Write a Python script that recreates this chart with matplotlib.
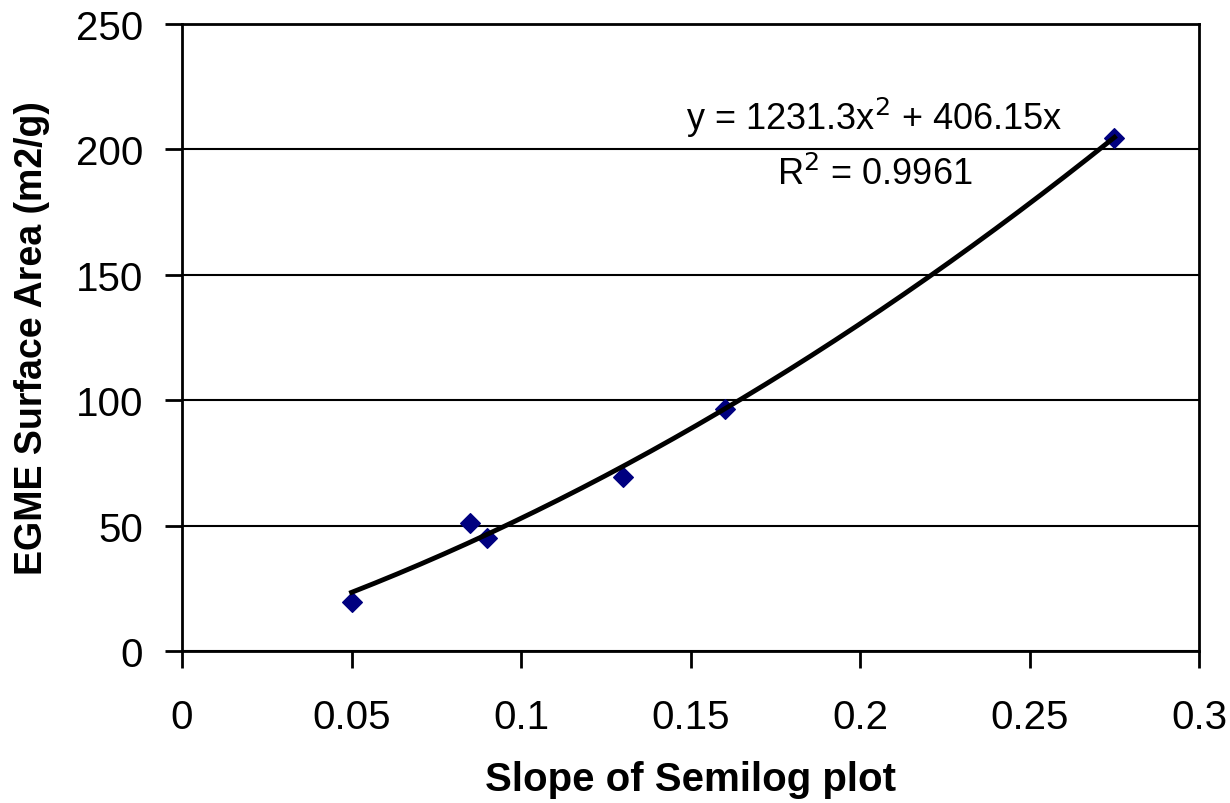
import matplotlib.pyplot as plt
import numpy as np

plt.rcParams['font.family'] = ['Liberation Sans', 'DejaVu Sans']

# データ
slope = [0.05, 0.085, 0.09, 0.13, 0.16, 0.275]
egme_area = [19.5, 51.2, 45.0, 69.5, 96.5, 204.5]

# 近似曲線 (2次, 切片0)
coef_a = 1231.3
coef_b = 406.15
eq_text = 'y = 1231.3x$^{2}$ + 406.15x'
r2_text = 'R$^{2}$ = 0.9961'

fig = plt.figure(figsize=(12.3, 8.04), dpi=100)
ax = fig.add_axes([0.148, 0.189, 0.827, 0.780])

ax.scatter(slope, egme_area, marker='D', s=100, color='#000080', zorder=3)

xs = np.linspace(min(slope), max(slope), 200)
ax.plot(xs, coef_a * xs ** 2 + coef_b * xs, color='black', lw=3.5, zorder=4)

ax.set_xlim(0, 0.3)
ax.set_ylim(0, 250)
ax.set_xticks([0, 0.05, 0.1, 0.15, 0.2, 0.25, 0.3])
ax.set_xticklabels(['0', '0.05', '0.1', '0.15', '0.2', '0.25', '0.3'])
ax.set_yticks([0, 50, 100, 150, 200, 250])
ax.yaxis.grid(True, color='black', lw=1.5)
ax.set_axisbelow(True)

for s in ax.spines.values():
    s.set_linewidth(2)
ax.tick_params(labelsize=29, width=2, length=12)
ax.tick_params(axis='x', pad=22)
ax.tick_params(axis='y', pad=16)

ax.set_xlabel('Slope of Semilog plot', fontsize=29, fontweight='bold', va='center')
ax.set_ylabel('EGME Surface Area (m2/g)', fontsize=27, fontweight='bold', va='center')
ax.xaxis.set_label_coords(0.5, -0.204)
ax.yaxis.set_label_coords(-0.1475, 0.5)

ax.text(0.681, 0.852, eq_text, transform=ax.transAxes, fontsize=26,
        ha='center', va='center')
ax.text(0.681, 0.761, r2_text, transform=ax.transAxes, fontsize=26,
        ha='center', va='center')

fig.savefig('out.png', dpi=100)
